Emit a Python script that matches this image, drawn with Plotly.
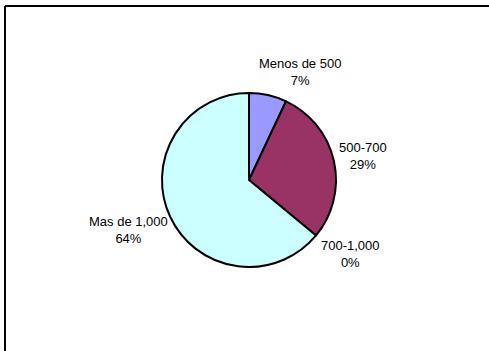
import plotly.graph_objects as go

# Distribution by range
categories = ["Menos de 500", "500-700", "700-1,000", "Mas de 1,000"]
values = [7, 29, 0, 64]
colors = ["#9999FF", "#993366", "#FFFFCC", "#CCFFFF"]

# Label block centres (pixels from the top-left corner)
label_pos = [(300, 72), (363, 156), (350, 254), (128, 230)]

# The chart frame runs past the right edge of the visible page, so the
# figure is laid out a little wider than the 489 px window.
W, H = 496, 351
cx, cy, r = 249, 180, 87

fig = go.Figure(
    go.Pie(
        labels=categories,
        values=values,
        sort=False,
        direction="clockwise",
        rotation=0,
        marker=dict(colors=colors, line=dict(color="black", width=2)),
        textinfo="none",
        hoverinfo="label+percent",
        showlegend=False,
        domain=dict(x=[(cx - r) / W, (cx + r) / W], y=[1 - (cy + r) / H, 1 - (cy - r) / H]),
    )
)

total = sum(values)
annotations = []
for cat, v, (px, py) in zip(categories, values, label_pos):
    annotations.append(
        dict(
            x=px / W,
            y=1 - py / H,
            xref="paper",
            yref="paper",
            text=f"{cat}<br>{round(100 * v / total)}%",
            showarrow=False,
            xanchor="center",
            yanchor="middle",
            align="center",
            font=dict(family="Liberation Sans, Arial, sans-serif", size=13, color="#000000"),
        )
    )

# Chart-area frame: only its left and top edges fall inside the view
frame_x = 5 / W
frame_y = 1 - 6 / H
fig.update_layout(
    width=W,
    height=H,
    margin=dict(l=0, r=0, t=0, b=0),
    showlegend=False,
    paper_bgcolor="white",
    plot_bgcolor="white",
    annotations=annotations,
    shapes=[
        dict(type="line", xref="paper", yref="paper",
             x0=frame_x, x1=frame_x, y0=0, y1=frame_y,
             line=dict(color="black", width=2)),
        dict(type="line", xref="paper", yref="paper",
             x0=frame_x, x1=1, y0=frame_y, y1=frame_y,
             line=dict(color="black", width=2)),
    ],
)

fig.write_html(
    "out.html",
    config={"displayModeBar": False},
    post_script="document.documentElement.style.overflow='hidden';document.body.style.overflow='hidden';",
)
